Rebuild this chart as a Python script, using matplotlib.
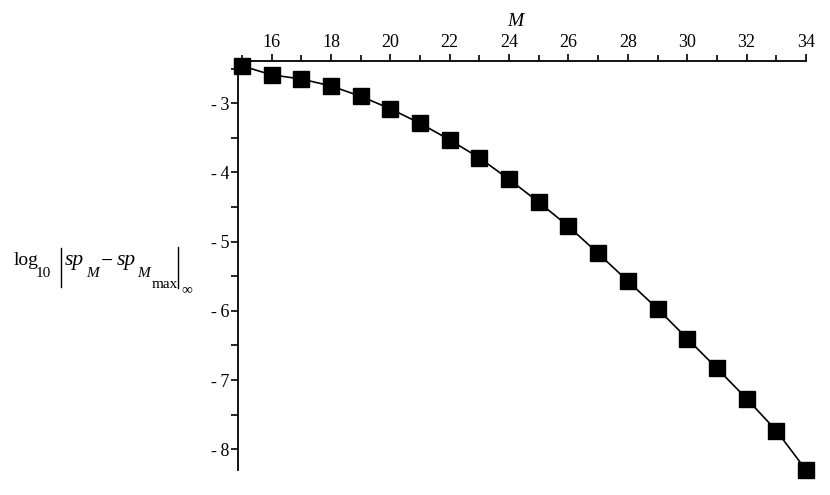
import matplotlib
matplotlib.use("Agg")
import matplotlib.pyplot as plt
from matplotlib.lines import Line2D
from matplotlib.ticker import MultipleLocator, FuncFormatter

M = [15, 16, 17, 18, 19, 20, 21, 22, 23, 24, 25, 26, 27, 28, 29, 30, 31, 32, 33, 34]
err = [-2.46, -2.59, -2.65, -2.75, -2.90, -3.08, -3.29, -3.53, -3.79, -4.10,
       -4.43, -4.78, -5.17, -5.57, -5.97, -6.40, -6.83, -7.27, -7.73, -8.30]

plt.rcParams['font.family'] = ['Liberation Serif', 'DejaVu Serif']
plt.rcParams['mathtext.fontset'] = 'stix'

W, H = 830, 495
fig = plt.figure(figsize=(W / 100, H / 100), dpi=100)
ax = fig.add_axes([238/W, 1 - 470/H, (806 - 238)/W, (470 - 61)/H])

ax.plot(M, err, color='black', lw=1.2, marker='s', markersize=11,
        markerfacecolor='black', markeredgecolor='black', clip_on=False, zorder=3)

ax.set_xlim(14.87, 34)
ax.set_ylim(-8.3, -2.39)

for s in ['right', 'bottom']:
    ax.spines[s].set_visible(False)
for s in ['left', 'top']:
    ax.spines[s].set_linewidth(1.3)

ax.xaxis.tick_top()
ax.xaxis.set_minor_locator(MultipleLocator(1))
ax.yaxis.set_major_locator(MultipleLocator(1))
ax.yaxis.set_minor_locator(MultipleLocator(0.5))
ax.set_xticks([16, 18, 20, 22, 24, 26, 28, 30, 32, 34])
ax.yaxis.set_major_formatter(FuncFormatter(lambda v, p: '-\u2009%d' % round(-v)))

ax.tick_params(axis='x', which='major', length=5, width=1.2, pad=2, labelsize=13, direction='out')
ax.tick_params(axis='x', which='minor', length=4, width=1.2, direction='out')
ax.tick_params(axis='y', which='major', length=5, width=1.2, pad=1, labelsize=13, direction='out')
ax.tick_params(axis='y', which='minor', length=5, width=1.2, direction='out')


def fx(px):
    return px / W


def fy(py):
    return 1 - py / H


fig.text(fx(515), fy(21), 'M', fontsize=14, style='italic', ha='center', va='center')


# y-axis label built from pieces: log10 |sp_M - sp_{M_max}|_inf
def piece(x, y, s, size, style='normal', va='baseline'):
    fig.text(fx(x), fy(y), s, fontsize=size, style=style, ha='left', va=va)


piece(14, 265, 'log', 14)
piece(36, 277, '10', 11)
piece(65, 265, 'sp', 15.5, 'italic')
piece(86, 277, 'M', 11, 'italic')
piece(101, 262, '\u2212', 15.5, va='center')
piece(117, 265, 'sp', 15.5, 'italic')
piece(137, 277, 'M', 11, 'italic')
piece(152, 288, 'max', 11)
piece(181, 290, '\u221e', 11, va='center')
fig.add_artist(Line2D([fx(61), fx(61)], [fy(248), fy(287)], color='black', lw=1.0))
fig.add_artist(Line2D([fx(178), fx(178)], [fy(247), fy(288)], color='black', lw=1.0))

fig.savefig('out.png', dpi=100)
